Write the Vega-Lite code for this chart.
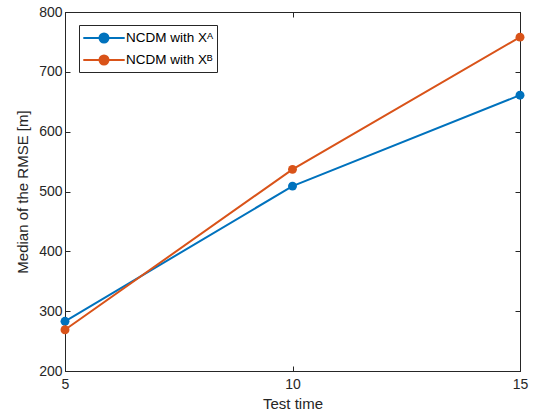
{
  "$schema": "https://vega.github.io/schema/vega-lite/v6.json",
  "width": 455,
  "height": 359,
  "autosize": {"type": "none"},
  "padding": {"left": 65, "top": 12, "right": 17, "bottom": 46},
  "background": "white",
  "config": {
    "view": {"stroke": "#262626", "strokeWidth": 1},
    "font": "Liberation Sans",
    "axis": {
      "grid": false,
      "domainColor": "#262626",
      "tickColor": "#262626",
      "labelColor": "#262626",
      "titleColor": "#262626",
      "labelFont": "Liberation Sans",
      "titleFont": "Liberation Sans",
      "labelFontSize": 14,
      "titleFontSize": 15,
      "titleFontWeight": "normal",
      "labelFlush": false,
      "tickSize": -5
    }
  },
  "data": {
    "values": [
      {"t": 5, "rmse": 283, "s": "NCDM with Xᴬ"},
      {"t": 10, "rmse": 509, "s": "NCDM with Xᴬ"},
      {"t": 15, "rmse": 661, "s": "NCDM with Xᴬ"},
      {"t": 5, "rmse": 269, "s": "NCDM with Xᴮ"},
      {"t": 10, "rmse": 537, "s": "NCDM with Xᴮ"},
      {"t": 15, "rmse": 758, "s": "NCDM with Xᴮ"}
    ]
  },
  "layer": [
    {
      "mark": {"type": "line", "strokeWidth": 2, "point": {"filled": true, "size": 80, "opacity": 1}},
      "encoding": {
        "x": {"field": "t", "type": "quantitative", "scale": {"domain": [5, 15], "nice": false},
          "axis": {"values": [5, 10, 15], "title": "Test time", "labelPadding": 11, "titlePadding": 5}},
        "y": {"field": "rmse", "type": "quantitative", "scale": {"domain": [200, 800], "nice": false},
          "axis": {"values": [200, 300, 400, 500, 600, 700, 800], "title": "Median of the RMSE [m]", "labelPadding": 8, "titlePadding": 8}},
        "color": {"field": "s", "type": "nominal",
          "scale": {"range": ["#0072BD", "#D95319"]},
          "legend": {
            "title": null,
            "orient": "none",
            "legendX": 14,
            "legendY": 13,
            "strokeColor": "#262626",
            "fillColor": "white",
            "padding": 3,
            "labelFontSize": 13.5,
            "labelFont": "Liberation Sans",
            "labelColor": "#000000",
            "labelOffset": 12,
            "rowPadding": 3,
            "symbolType": "M-2.3,0L2.3,0M0.5,0A0.5,0.5,0,1,1,-0.5,0A0.5,0.5,0,1,1,0.5,0Z",
            "symbolSize": 324,
            "symbolOffset": 12,
            "symbolStrokeWidth": 2,
            "encode": {
              "symbols": {"update": {
                "fill": {"scale": "color", "field": "value"},
                "stroke": {"scale": "color", "field": "value"},
                "opacity": {"value": 1},
                "fillOpacity": {"value": 1},
                "strokeWidth": {"value": 2}
              }}
            }
          }}
      }
    },
    {
      "mark": {"type": "point", "opacity": 0},
      "encoding": {
        "x": {"field": "t", "type": "quantitative", "scale": {"domain": [5, 15], "nice": false},
          "axis": {"orient": "top", "values": [5, 10, 15], "labels": false, "title": null}},
        "y": {"field": "rmse", "type": "quantitative", "scale": {"domain": [200, 800], "nice": false},
          "axis": {"orient": "right", "values": [200, 300, 400, 500, 600, 700, 800], "labels": false, "title": null}}
      }
    }
  ],
  "resolve": {"scale": {"x": "independent", "y": "independent"}}
}
